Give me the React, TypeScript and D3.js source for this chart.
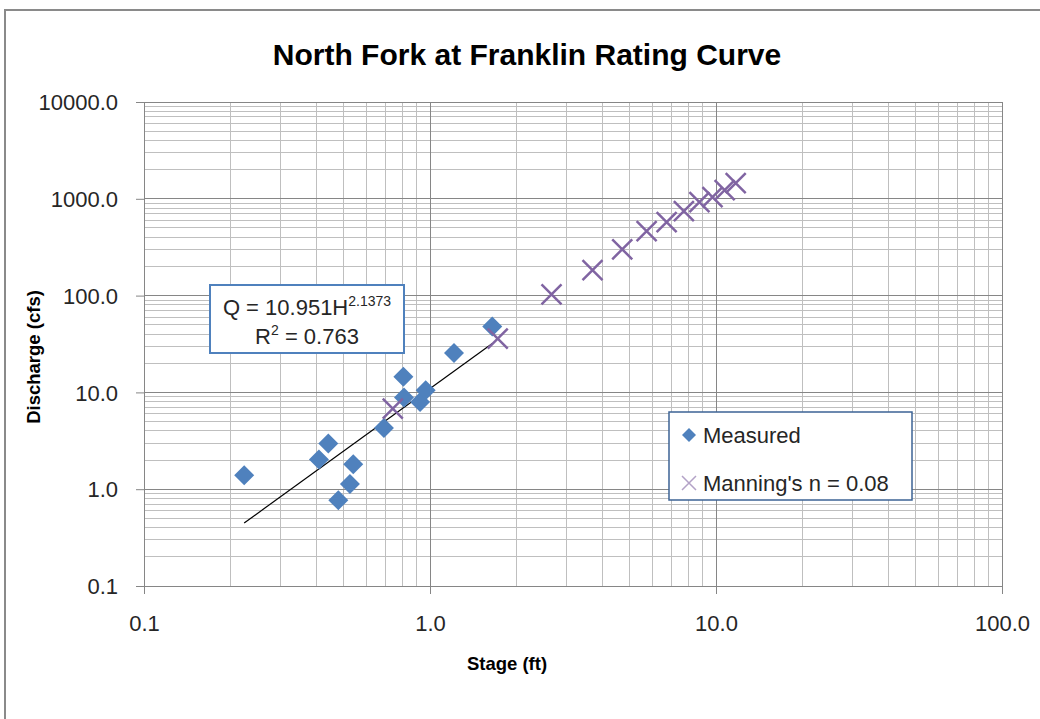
import React, { useEffect, useRef } from "react";
import * as d3 from "d3";

// Measured points (stage ft, discharge cfs)
const measuredStage = [0.224, 0.409, 0.441, 0.478, 0.525, 0.539, 0.69, 0.807, 0.811, 0.923, 0.966, 1.213, 1.651];
const measuredFlow = [1.39, 2.03, 2.97, 0.77, 1.13, 1.81, 4.3, 14.5, 8.86, 7.98, 10.5, 25.6, 48];

// Manning's n = 0.08 computed points
const manningStage = [0.741, 1.725, 2.66, 3.7, 4.7, 5.72, 6.72, 7.72, 8.75, 9.72, 10.72, 11.72];
const manningFlow = [6.8, 36, 103, 183, 301, 463, 573, 745, 922, 1038, 1227, 1449];

// power trendline from the chart label
const trendA = 10.951;
const trendB = 2.1373;
const trendR2 = "0.763";

const xTicks = [0.1, 1, 10, 100];
const yTicks = [0.1, 1, 10, 100, 1000, 10000];

const BLUE = "#4F81BD";
const PURPLE = "#8064A2";

const App = () => {
  const ref = useRef<SVGSVGElement | null>(null);

  useEffect(() => {
    if (ref.current) drawChart(ref.current);
  }, []);

  return (
    <svg
      ref={ref}
      width={1040}
      height={719}
      style={{ position: "absolute", left: 0, top: 0, background: "#fff" }}
    />
  );
};

function drawChart(el: SVGSVGElement) {
  const svg = d3.select(el);
  svg.selectAll("*").remove();

  const font = "'Liberation Sans', Arial, sans-serif";
  const left = 144, right = 1002, top = 102, bottom = 586;

  const x = d3.scaleLog().domain([0.1, 100]).range([left, right]);
  const y = d3.scaleLog().domain([0.1, 10000]).range([bottom, top]);

  // chart frame (cropped on the right/bottom)
  svg.append("path")
    .attr("d", `M5,719 L5,10 L1040,10`)
    .attr("fill", "none")
    .attr("stroke", "#8a8a8a")
    .attr("stroke-width", 2);

  // gridlines
  const minorX: number[] = [];
  for (let d = 0.1; d < 100; d *= 10) for (let k = 2; k <= 9; k++) minorX.push(d * k);
  const minorY: number[] = [];
  for (let d = 0.1; d < 10000; d *= 10) for (let k = 2; k <= 9; k++) minorY.push(d * k);

  const grid = svg.append("g").attr("shape-rendering", "crispEdges");
  grid.selectAll(".mx").data(minorX).enter().append("line")
    .attr("x1", (d) => x(d)).attr("x2", (d) => x(d))
    .attr("y1", top).attr("y2", bottom)
    .attr("stroke", "#bfbfbf");
  grid.selectAll(".my").data(minorY).enter().append("line")
    .attr("x1", left).attr("x2", right)
    .attr("y1", (d) => y(d)).attr("y2", (d) => y(d))
    .attr("stroke", "#bfbfbf");
  grid.selectAll(".Mx").data(xTicks).enter().append("line")
    .attr("x1", (d) => x(d)).attr("x2", (d) => x(d))
    .attr("y1", top).attr("y2", bottom)
    .attr("stroke", "#868686");
  grid.selectAll(".My").data(yTicks).enter().append("line")
    .attr("x1", left).attr("x2", right)
    .attr("y1", (d) => y(d)).attr("y2", (d) => y(d))
    .attr("stroke", "#868686");

  // axes
  const yAxis = svg.append("g")
    .attr("transform", `translate(${left},0)`)
    .call(d3.axisLeft(y).tickValues(yTicks).tickFormat(d3.format(".1f")).tickSize(8).tickSizeOuter(0).tickPadding(18));
  const xAxis = svg.append("g")
    .attr("transform", `translate(0,${bottom})`)
    .call(d3.axisBottom(x).tickValues(xTicks).tickFormat(d3.format(".1f")).tickSize(8).tickSizeOuter(0).tickPadding(21));
  [yAxis, xAxis].forEach((a) => {
    a.select(".domain").attr("stroke", "#868686");
    a.selectAll(".tick line").attr("stroke", "#868686");
    a.selectAll("text")
      .attr("fill", "#262626")
      .style("font-family", font)
      .style("font-size", "22px");
  });
  yAxis.selectAll("text").attr("dy", "0.35em");

  // trendline
  const stageExtent = d3.extent(measuredStage) as [number, number];
  const trend = stageExtent.map((h) => ({ h, q: trendA * Math.pow(h, trendB) }));
  svg.append("path")
    .datum(trend)
    .attr("fill", "none")
    .attr("stroke", "#000")
    .attr("stroke-width", 1.2)
    .attr("d", d3.line<{ h: number; q: number }>().x((d) => x(d.h)).y((d) => y(d.q)));

  // measured diamonds
  const diamond = (s: number) => `M0,${-s} L${s},0 L0,${s} L${-s},0 Z`;
  svg.append("g").selectAll("path")
    .data(measuredStage.map((h, i) => [h, measuredFlow[i]]))
    .enter().append("path")
    .attr("transform", (d) => `translate(${x(d[0])},${y(d[1])})`)
    .attr("d", diamond(10))
    .attr("fill", BLUE);

  // manning crosses
  const cross = (s: number) => `M${-s},${-s} L${s},${s} M${-s},${s} L${s},${-s}`;
  svg.append("g").selectAll("path")
    .data(manningStage.map((h, i) => [h, manningFlow[i]]))
    .enter().append("path")
    .attr("transform", (d) => `translate(${x(d[0])},${y(d[1])})`)
    .attr("d", cross(10))
    .attr("fill", "none")
    .attr("stroke", PURPLE)
    .attr("stroke-width", 2.5);

  // title
  svg.append("text")
    .attr("x", 527)
    .attr("y", 65)
    .attr("text-anchor", "middle")
    .style("font-family", font)
    .style("font-weight", "bold")
    .style("font-size", "30px")
    .attr("fill", "#000")
    .text("North Fork at Franklin Rating Curve");

  // axis titles
  svg.append("text")
    .attr("x", 507)
    .attr("y", 670)
    .attr("text-anchor", "middle")
    .style("font-family", font)
    .style("font-weight", "bold")
    .style("font-size", "18.5px")
    .text("Stage (ft)");
  svg.append("text")
    .attr("transform", `translate(40,357) rotate(-90)`)
    .attr("text-anchor", "middle")
    .style("font-family", font)
    .style("font-weight", "bold")
    .style("font-size", "18.5px")
    .text("Discharge (cfs)");

  // equation label
  svg.append("rect")
    .attr("x", 210).attr("y", 285).attr("width", 194).attr("height", 68)
    .attr("fill", "#fff")
    .attr("stroke", BLUE)
    .attr("stroke-width", 2);
  const eq = svg.append("text")
    .attr("x", 307).attr("y", 315)
    .attr("text-anchor", "middle")
    .style("font-family", font)
    .style("font-size", "22px")
    .attr("fill", "#262626");
  eq.append("tspan").text(`Q = ${trendA}H`);
  eq.append("tspan").attr("dy", -9).style("font-size", "14px").text(`${trendB}`);
  const r2 = svg.append("text")
    .attr("x", 307).attr("y", 344)
    .attr("text-anchor", "middle")
    .style("font-family", font)
    .style("font-size", "22px")
    .attr("fill", "#262626");
  r2.append("tspan").text("R");
  r2.append("tspan").attr("dy", -9).style("font-size", "14px").text("2");
  r2.append("tspan").attr("dy", 9).text(` = ${trendR2}`);

  // legend
  svg.append("rect")
    .attr("x", 669).attr("y", 412).attr("width", 243).attr("height", 88)
    .attr("fill", "#fff")
    .attr("stroke", "#3d6395")
    .attr("stroke-width", 1.5);
  svg.append("path")
    .attr("transform", "translate(689,435)")
    .attr("d", diamond(7))
    .attr("fill", BLUE);
  svg.append("path")
    .attr("transform", "translate(689,483)")
    .attr("d", cross(7))
    .attr("fill", "none")
    .attr("stroke", "#b3a2c7")
    .attr("stroke-width", 1.5);
  svg.append("text")
    .attr("x", 703).attr("y", 443)
    .style("font-family", font)
    .style("font-size", "22px")
    .attr("fill", "#262626")
    .text("Measured");
  svg.append("text")
    .attr("x", 703).attr("y", 491)
    .style("font-family", font)
    .style("font-size", "22px")
    .attr("fill", "#262626")
    .text("Manning's n = 0.08");
}

export default App;
